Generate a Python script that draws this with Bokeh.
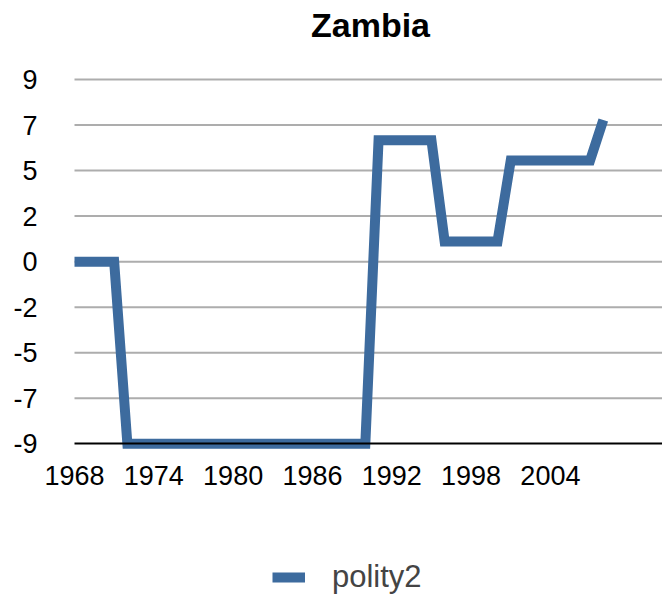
from bokeh.plotting import figure
from bokeh.models import FixedTicker, Legend, LegendItem, Range1d, Label
from bokeh.embed import file_html
from bokeh.resources import INLINE

# ---- data ----
years = list(range(1968, 2009))
polity2 = ([0] * 4) + ([-9] * 19) + ([6] * 5) + ([1] * 5) + ([5] * 7) + [7]
x_ticks = [1968, 1974, 1980, 1986, 1992, 1998, 2004]
y_ticks = [-9, -6.75, -4.5, -2.25, 0, 2.25, 4.5, 6.75, 9]
y_tick_labels = ["-9", "-7", "-5", "-2", "0", "2", "5", "7", "9"]
title_text = "Zambia"
series_name = "polity2"

LINE_COLOR = "#3D6B9E"
FONT = "Liberation Sans"

X_START, X_END = 1962.402, 2012.48     # view window (plot area begins at 1968)
Y_START, Y_END = -16.495, 12.903

# the frame fills the whole figure; axes are pinned inside it
p = figure(width=662, height=595, output_backend="svg", toolbar_location=None,
           x_range=Range1d(X_START, X_END), y_range=Range1d(Y_START, Y_END),
           min_border_left=0, min_border_right=0, min_border_top=0,
           min_border_bottom=0)
p.outline_line_color = None
p.background_fill_color = "white"
p.border_fill_color = "white"
p.xgrid.visible = False
p.ygrid.visible = False

# horizontal gridlines over the plot area only
grid_y = y_ticks[1:]
p.segment(x0=[years[0]] * len(grid_y), y0=grid_y,
          x1=[X_END] * len(grid_y), y1=grid_y,
          line_color="#ADADAD", line_width=2)

r = p.line(years, polity2, line_color=LINE_COLOR, line_width=10, line_join="miter")

# title
p.add_layout(Label(x=1990.39, y=11.67, text=title_text, text_align="center",
                   text_baseline="alphabetic", text_font=FONT,
                   text_font_size="34px", text_font_style="bold",
                   text_color="black"))

# x axis pinned at -9
xa = p.xaxis[0]
xa.fixed_location = y_ticks[0]
xa.bounds = (years[0], X_END)
xa.ticker = FixedTicker(ticks=x_ticks)
xa.axis_line_color = "black"
xa.axis_line_width = 2
xa.major_tick_line_color = None
xa.minor_tick_line_color = None
xa.major_label_text_font = FONT
xa.major_label_text_font_size = "27px"
xa.major_label_text_color = "black"
xa.major_label_standoff = 16

# y axis pinned at the first year
ya = p.yaxis[0]
ya.fixed_location = years[0]
ya.bounds = (y_ticks[0], y_ticks[-1])
ya.ticker = FixedTicker(ticks=y_ticks)
ya.major_label_overrides = {t: lab for t, lab in zip(y_ticks, y_tick_labels)}
ya.axis_line_color = None
ya.major_tick_line_color = None
ya.minor_tick_line_color = None
ya.major_label_text_font = FONT
ya.major_label_text_font_size = "27px"
ya.major_label_text_color = "black"
ya.major_label_standoff = 31

legend = Legend(items=[LegendItem(label=series_name, renderers=[r])],
                location=(272, 0), orientation="horizontal",
                border_line_color=None, background_fill_alpha=0,
                padding=0, margin=0, glyph_width=33, label_standoff=27,
                label_text_font=FONT, label_text_font_size="31px")
p.add_layout(legend, "center")

open("out.html", "w").write(file_html(p, INLINE))
